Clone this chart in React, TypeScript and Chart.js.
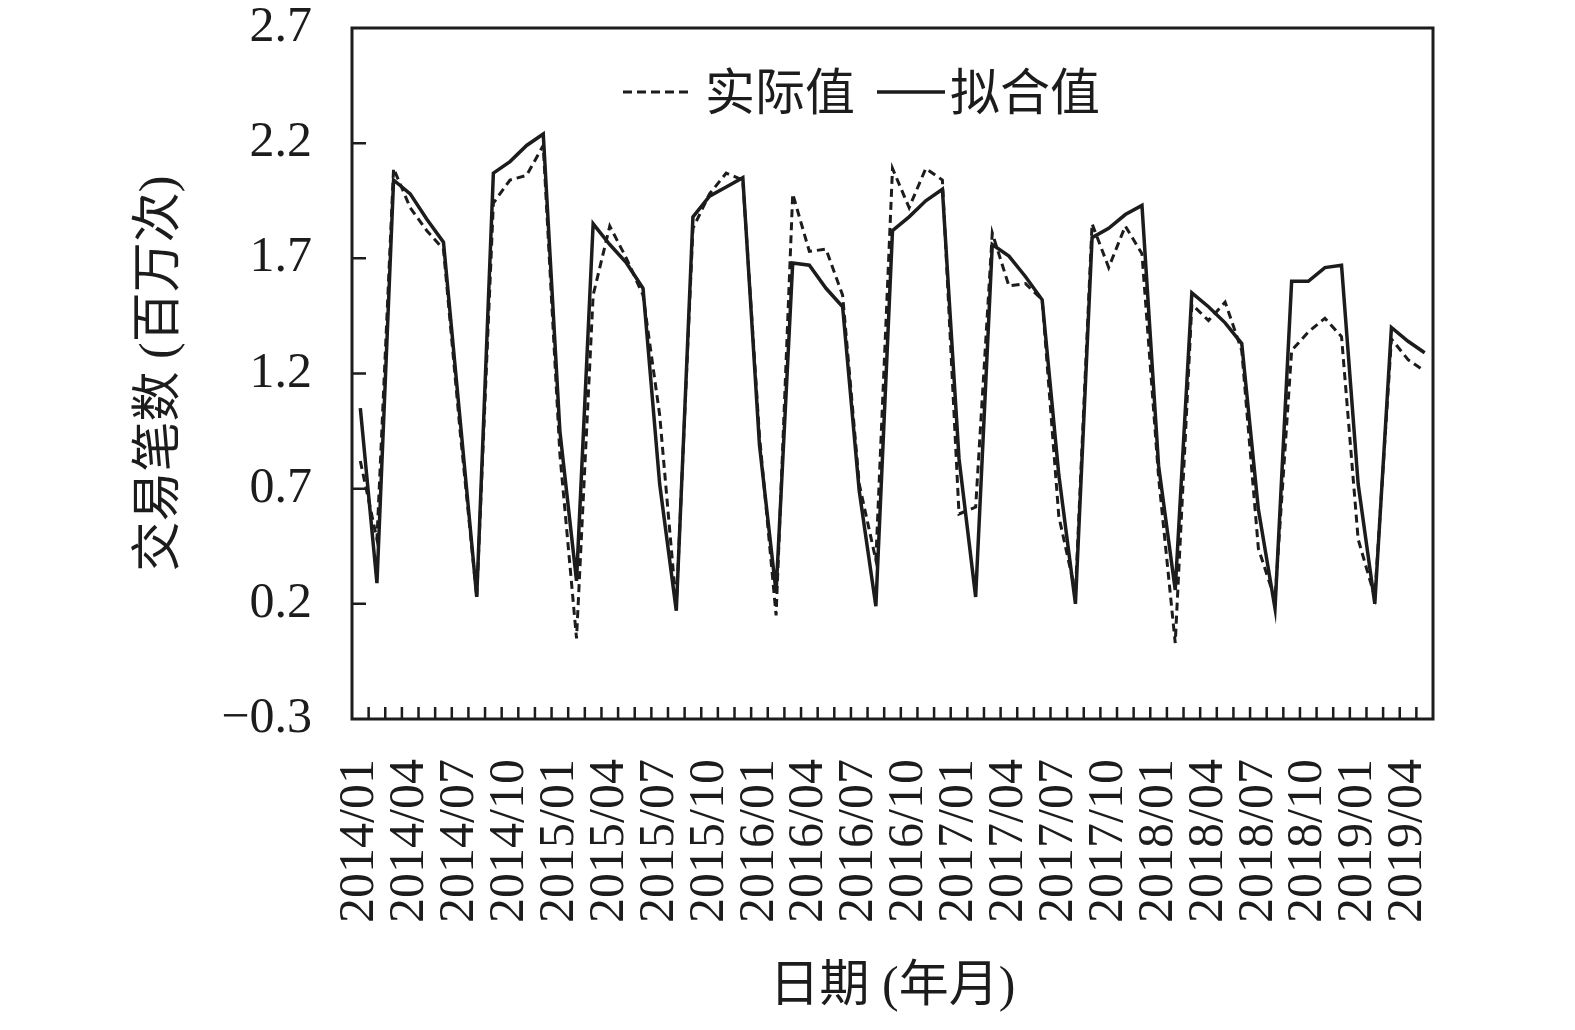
import { useEffect, useRef } from "react";
import { Chart, registerables } from "chart.js";

Chart.register(...registerables);

const INK = "#1c1c1c";
const FONT = "'Liberation Serif', 'Noto Sans CJK SC', serif";

// months 2014/01 .. 2019/05
const categories: string[] = [];
for (let y = 2014; y <= 2019; y++) {
  for (let m = 1; m <= 12; m++) {
    if (y === 2019 && m > 5) break;
    categories.push(`${y}/${String(m).padStart(2, "0")}`);
  }
}

const tickLabels = [
  "2014/01", "2014/04", "2014/07", "2014/10",
  "2015/01", "2015/04", "2015/07", "2015/10",
  "2016/01", "2016/04", "2016/07", "2016/10",
  "2017/01", "2017/04", "2017/07", "2017/10",
  "2018/01", "2018/04", "2018/07", "2018/10",
  "2019/01", "2019/04",
];

// 实际值 (dashed)
const actual = [
  0.82, 0.48, 2.09, 1.92, 1.82, 1.74, 0.95, 0.23, 1.94, 2.04, 2.06, 2.19,
  0.85, 0.05, 1.54, 1.84, 1.7, 1.54, 1.02, 0.19, 1.83, 1.98, 2.07, 2.04,
  0.93, 0.15, 1.98, 1.73, 1.74, 1.54, 0.72, 0.39, 2.09, 1.92, 2.09, 2.04,
  0.59, 0.62, 1.81, 1.58, 1.59, 1.52, 0.58, 0.25, 1.85, 1.66, 1.84, 1.72,
  0.75, 0.03, 1.5, 1.43, 1.51, 1.3, 0.44, 0.22, 1.3, 1.38, 1.44, 1.36,
  0.48, 0.23, 1.35, 1.26, 1.21,
];

// 拟合值 (solid)
const fitted = [
  1.05, 0.29, 2.04, 1.98, 1.87, 1.77, 1.0, 0.23, 2.07, 2.12, 2.19, 2.24,
  0.95, 0.3, 1.85, 1.76, 1.68, 1.57, 0.72, 0.17, 1.88, 1.97, 2.01, 2.05,
  0.89, 0.25, 1.68, 1.67, 1.57, 1.49, 0.69, 0.19, 1.82, 1.88, 1.95, 2.0,
  0.83, 0.23, 1.76, 1.71, 1.62, 1.52, 0.76, 0.2, 1.79, 1.83, 1.89, 1.93,
  0.8, 0.26, 1.55, 1.49, 1.42, 1.33, 0.61, 0.18, 1.6, 1.6, 1.66, 1.67,
  0.72, 0.2, 1.4, 1.34, 1.29,
];

const Y_MIN = -0.3;
const Y_MAX = 2.7;
const Y_STEP = 0.5;

// frame, inward tick marks and the legend inside the plot
const framePlugin = {
  id: "frame",
  afterDraw(chart: any) {
    const { ctx, chartArea: a, scales } = chart;
    const xs = scales.x;
    const ys = scales.y;
    ctx.save();
    ctx.strokeStyle = INK;

    // x ticks between months
    ctx.lineWidth = 2.5;
    ctx.beginPath();
    for (let i = 1; i < categories.length; i++) {
      const x = (xs.getPixelForValue(i - 1) + xs.getPixelForValue(i)) / 2;
      ctx.moveTo(x, a.bottom);
      ctx.lineTo(x, a.bottom - 12);
    }
    ctx.stroke();

    // y ticks
    ctx.lineWidth = 2.5;
    ctx.beginPath();
    ys.ticks.forEach((t: any) => {
      const y = ys.getPixelForValue(t.value);
      if (y <= a.top + 2 || y >= a.bottom - 2) return;
      ctx.moveTo(a.left, y);
      ctx.lineTo(a.left + 14, y);
    });
    ctx.stroke();

    ctx.lineWidth = 3;
    ctx.strokeRect(a.left, a.top, a.right - a.left, a.bottom - a.top);

    // legend
    const ly = a.top + 64;
    ctx.lineWidth = 3;
    ctx.setLineDash([9, 5]);
    ctx.beginPath();
    ctx.moveTo(a.left + 271, ly);
    ctx.lineTo(a.left + 341, ly);
    ctx.stroke();
    ctx.setLineDash([]);
    ctx.lineWidth = 3.5;
    ctx.beginPath();
    ctx.moveTo(a.left + 525, ly);
    ctx.lineTo(a.left + 593, ly);
    ctx.stroke();
    ctx.fillStyle = INK;
    ctx.font = `50px ${FONT}`;
    ctx.textBaseline = "middle";
    ctx.fillText("实际值", a.left + 353, ly + 5);
    ctx.fillText("拟合值", a.left + 598, ly + 5);
    ctx.restore();
  },
};

export default function App() {
  const canvasRef = useRef<HTMLCanvasElement>(null);

  useEffect(() => {
    if (!canvasRef.current) return;
    const chart = new Chart(canvasRef.current, {
      type: "line",
      data: {
        labels: categories,
        datasets: [
          {
            label: "实际值",
            data: actual,
            borderColor: INK,
            borderWidth: 3,
            borderDash: [8, 5],
            pointRadius: 0,
            tension: 0,
            fill: false,
          },
          {
            label: "拟合值",
            data: fitted,
            borderColor: INK,
            borderWidth: 3.5,
            pointRadius: 0,
            tension: 0,
            fill: false,
          },
        ],
      },
      options: {
        responsive: true,
        maintainAspectRatio: false,
        animation: false,
        layout: { padding: { top: 28, right: 142, left: 0, bottom: 0 } },
        plugins: {
          legend: { display: false },
          tooltip: { enabled: false },
        },
        scales: {
          x: {
            type: "category",
            offset: true,
            grid: { display: false, drawTicks: false },
            border: { display: false },
            ticks: {
              autoSkip: false,
              minRotation: 90,
              maxRotation: 90,
              padding: 40,
              color: INK,
              font: { family: FONT, size: 50, lineHeight: 1 },
              callback: (_v: any, i: number) =>
                tickLabels.includes(categories[i]) ? categories[i] : "",
            },
            title: {
              display: true,
              text: "日期 (年月)",
              color: INK,
              font: { family: FONT, size: 50 },
              padding: { top: 0, bottom: 12 },
            },
            afterFit: (s: any) => {
              s.height = 311;
              s.paddingLeft = 0;
              s.paddingRight = 0;
            },
          },
          y: {
            min: Y_MIN,
            max: Y_MAX,
            grid: { display: false, drawTicks: false },
            border: { display: false },
            ticks: {
              stepSize: Y_STEP,
              padding: 40,
              color: INK,
              font: { family: FONT, size: 50, lineHeight: 1 },
              callback: (v: any) => {
                const n = Number(v);
                const s = Math.abs(n).toFixed(1);
                return n < -1e-9 ? "\u2212" + s : s;
              },
            },
            title: {
              display: true,
              text: "交易笔数 (百万次)",
              color: INK,
              font: { family: FONT, size: 50 },
              padding: { top: 131, bottom: 0 },
            },
            afterFit: (s: any) => {
              s.width = 352;
              s.paddingTop = 0;
              s.paddingBottom = 0;
            },
          },
        },
      },
      plugins: [framePlugin],
    });
    return () => chart.destroy();
  }, []);

  return (
    <div
      style={{
        position: "fixed",
        left: 0,
        top: 0,
        width: 1575,
        height: 1030,
        background: "#fff",
      }}
    >
      <canvas ref={canvasRef} />
    </div>
  );
}
